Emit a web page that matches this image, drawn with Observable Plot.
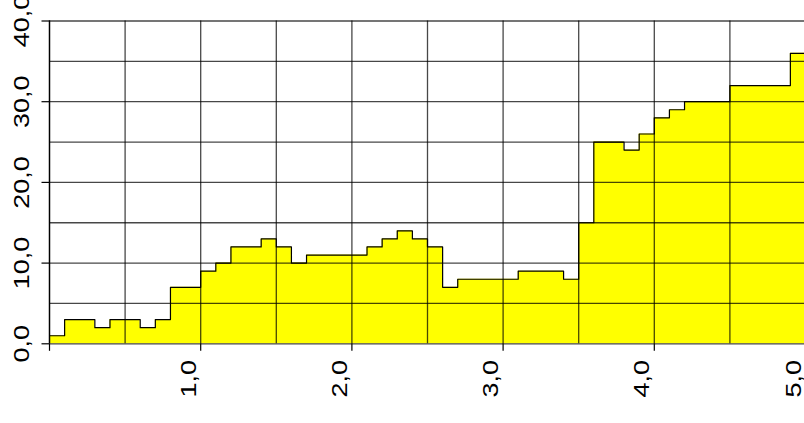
<!DOCTYPE html>
<html>
<head>
<meta charset="utf-8">
<script src="https://cdn.jsdelivr.net/npm/d3@7"></script>
<script src="https://cdn.jsdelivr.net/npm/@observablehq/plot@0.6"></script>
<style>
html, body { margin: 0; padding: 0; background: #fff; overflow: hidden; }
</style>
</head>
<body>
<div id="chart"></div>
<script>
// Step starts (x) and the value held from each start to the next
const stepStarts = [0, 0.1, 0.3, 0.4, 0.6, 0.7, 0.8, 1.0, 1.1, 1.2, 1.4, 1.5, 1.6, 1.7, 2.1, 2.2, 2.3, 2.4, 2.5, 2.6, 2.7, 3.1, 3.4, 3.5, 3.6, 3.8, 3.9, 4.0, 4.1, 4.2, 4.5, 4.9];
const stepValues = [1, 3, 2, 3, 2, 3, 7, 9, 10, 12, 13, 12, 10, 11, 12, 13, 14, 13, 12, 7, 8, 9, 8, 15, 25, 24, 26, 28, 29, 30, 32, 36];
const xEnd = 5.0;

const xGridValues = [0, 0.5, 1, 1.5, 2, 2.5, 3, 3.5, 4, 4.5, 5];
const yGridValues = [0, 5, 10, 15, 20, 25, 30, 35, 40];

const xTickValues = [0, 1, 2, 3, 4, 5];
const xLabelValues = [1, 2, 3, 4, 5];
const xLabelTexts = ["1,0", "2,0", "3,0", "4,0", "5,0"];
const yTickValues = [0, 10, 20, 30, 40];
const yLabelTexts = ["0,0", "10,0", "20,0", "30,0", "40,0"];

const data = stepStarts.map((x, i) => ({x, y: stepValues[i]}));
data.push({x: xEnd, y: stepValues[stepValues.length - 1]});

const xLabelMap = new Map(xLabelValues.map((v, i) => [v, xLabelTexts[i]]));
const yLabelMap = new Map(yTickValues.map((v, i) => [v, yLabelTexts[i]]));

const FONT = "'Liberation Sans', Arial, Helvetica, sans-serif";

const chart = Plot.plot({
  width: 804,
  height: 423,
  marginLeft: 49,
  marginTop: 20.5,
  marginBottom: 79.7,
  marginRight: -1,
  style: {fontFamily: FONT, background: "#fff", color: "#000", overflow: "visible"},
  x: {domain: [0, 5]},
  y: {domain: [0, 40]},
  marks: [
    Plot.areaY(data, {x: "x", y: "y", curve: "step-after", fill: "#ffff00"}),
    Plot.ruleX(xGridValues, {stroke: "#000", strokeOpacity: 0.72, strokeWidth: 1.3}),
    Plot.ruleY(yGridValues, {stroke: "#000", strokeOpacity: 0.72, strokeWidth: 1.3}),
    Plot.lineY(data, {x: "x", y: "y", curve: "step-after", stroke: "#000", strokeWidth: 1.2}),
    Plot.ruleX([0], {stroke: "#000", strokeWidth: 1.3}),
    // tick marks
    Plot.axisX({ticks: xTickValues, tickSize: 7.5, fill: "none", label: null, strokeWidth: 1.2}),
    Plot.axisY({ticks: yTickValues, tickSize: 7.5, fill: "none", label: null, strokeWidth: 1.2}),
    // tick labels
    Plot.axisX({
      ticks: xLabelValues, tickSize: 0, tickPadding: 16.2, tickRotate: -90,
      textAnchor: "end", lineAnchor: "bottom", dx: -5,
      tickFormat: d => xLabelMap.get(d), label: null, fontSize: 22.5, fill: "#000"
    }),
    Plot.axisY({
      ticks: yTickValues, tickSize: 0, tickPadding: 20.5, tickRotate: -90,
      textAnchor: "middle", lineAnchor: "bottom",
      tickFormat: d => yLabelMap.get(d), label: null, fontSize: 22.5, fill: "#000"
    })
  ]
});

// stretch tick labels along their reading direction, as in the reference
chart.querySelectorAll('[aria-label="x-axis tick label"] text, [aria-label="y-axis tick label"] text').forEach(t => {
  const tr = t.getAttribute("transform") || "";
  t.setAttribute("transform", tr + " scale(1.2,1)");
});

document.getElementById("chart").appendChild(chart);
</script>
</body>
</html>
